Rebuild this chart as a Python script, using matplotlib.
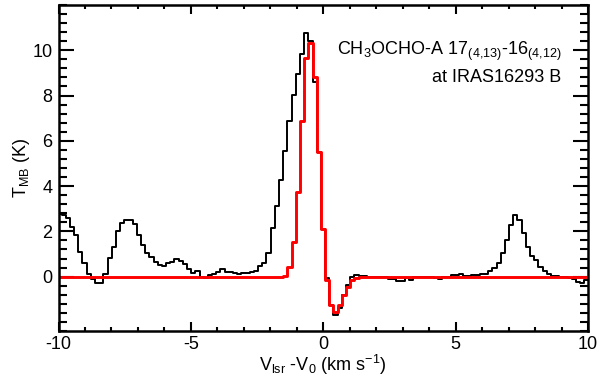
import numpy as np
import matplotlib.pyplot as plt
from matplotlib.ticker import MultipleLocator

plt.rcParams['font.family'] = 'Liberation Sans'
plt.rcParams['mathtext.fontset'] = 'custom'
plt.rcParams['mathtext.rm'] = 'Liberation Sans'
plt.rcParams['mathtext.it'] = 'Liberation Sans:italic'
plt.rcParams['mathtext.default'] = 'regular'
plt.rcParams['axes.unicode_minus'] = False

# spectral axis: centre of first channel and channel width (km/s)
v_first = -10.123
dv = 0.158

# observed spectrum, T_MB (K)
tmb_obs = [
    2.60, 2.75, 2.71, 2.57, 2.20, 1.83, 1.10, 0.59, 0.12, -0.11,
    -0.26, -0.26, 0.12, 0.81, 1.32, 2.00, 2.37, 2.52, 2.49, 2.31,
    1.83, 1.39, 1.06, 0.88, 0.66, 0.51, 0.47, 0.59, 0.66, 0.76,
    0.69, 0.54, 0.32, 0.15, 0.24, -0.03, -0.07, 0.06, 0.13, 0.21,
    0.34, 0.22, 0.19, 0.15, 0.10, 0.15, 0.15, 0.19, 0.27, 0.45,
    0.60, 1.05, 2.13, 3.11, 4.25, 5.57, 6.87, 8.03, 8.94, 9.85,
    10.75, 10.42, 8.60, 5.50, 2.10, -0.07, -1.25, -1.68, -1.40, -0.82,
    -0.38, 0.00, 0.07, 0.05, 0.03, 0.00, -0.03, -0.03, -0.03, -0.03,
    -0.12, -0.12, -0.19, -0.19, -0.05, -0.15, -0.02, -0.02, -0.02, -0.02,
    -0.02, -0.05, -0.10, 0.00, 0.00, 0.07, 0.07, 0.10, 0.04, 0.04,
    0.07, 0.07, 0.10, 0.13, 0.24, 0.37, 0.60, 1.03, 1.61, 2.27,
    2.71, 2.49, 1.91, 1.32, 0.91, 0.73, 0.44, 0.26, 0.12, 0.03,
    0.03, 0.00, -0.03, -0.08, -0.12, -0.22, -0.29, -0.15, -0.10,
]

# model spectrum, T_MB (K)
tmb_model = [
    0.00, 0.00, 0.00, 0.00, 0.00, 0.00, 0.00, 0.00, 0.00, 0.00,
    0.00, 0.00, 0.00, 0.00, 0.00, 0.00, 0.00, 0.00, 0.00, 0.00,
    0.00, 0.00, 0.00, 0.00, 0.00, 0.00, 0.00, 0.00, 0.00, 0.00,
    0.00, 0.00, 0.00, 0.00, 0.00, 0.00, 0.00, 0.00, 0.00, 0.00,
    0.00, 0.00, 0.00, 0.00, 0.00, 0.00, 0.00, 0.00, 0.00, 0.00,
    0.00, 0.00, 0.00, 0.00, 0.00, 0.03, 0.44, 1.52, 3.76, 6.87,
    9.65, 10.30, 8.80, 5.50, 2.10, -0.15, -1.25, -1.55, -1.25, -0.80,
    -0.44, -0.15, -0.05, -0.02, 0.00, 0.00, 0.00, 0.00, 0.00, 0.00,
    0.00, 0.00, 0.00, 0.00, 0.00, 0.00, 0.00, 0.00, 0.00, 0.00,
    0.00, 0.00, 0.00, 0.00, 0.00, 0.00, 0.00, 0.00, 0.00, 0.00,
    0.00, 0.00, 0.00, 0.00, 0.00, 0.00, 0.00, 0.00, 0.00, 0.00,
    0.00, 0.00, 0.00, 0.00, 0.00, 0.00, 0.00, 0.00, 0.00, 0.00,
    0.00, 0.00, 0.00, 0.00, 0.00, 0.00, 0.00, 0.00, 0.00,
]

vel = v_first + dv * np.arange(len(tmb_obs))

fig = plt.figure(figsize=(6, 3.76), dpi=100)
ax = fig.add_axes([0.0975, 0.1197, 0.8825, 0.867])

ax.step(vel, tmb_obs, where='mid', color='black', lw=1.4)
ax.step(vel, tmb_model, where='mid', color='red', lw=2.1)

ax.set_xlim(-10, 10)
ax.set_ylim(-2.4, 12)
ax.set_xticks([-10, -5, 0, 5, 10])
ax.set_yticks([0, 2, 4, 6, 8, 10])
ax.xaxis.set_minor_locator(MultipleLocator(1))
ax.yaxis.set_minor_locator(MultipleLocator(0.4))

ax.tick_params(which='both', direction='in', top=True, right=True,
               width=1.5, labelsize=13)
ax.tick_params(axis='x', which='major', length=6.5, pad=3.5)
ax.tick_params(axis='x', which='minor', length=3.2)
ax.tick_params(axis='y', which='major', length=10.8, pad=4.3)
ax.tick_params(axis='y', which='minor', length=5.5)
for s in ax.spines.values():
    s.set_linewidth(1.8)

ax.set_xlabel('V$_{lsr}$ -V$_0$ (km s$^{-1}$)', fontsize=13)
ax.xaxis.set_label_coords(0.5, -0.068)
ax.set_ylabel('T$_{MB}$ (K)', fontsize=13)
ax.yaxis.set_label_coords(-0.05, 0.5)

ax.text(0.950, 0.8466, 'CH$_3$OCHO-A 17$_{(4{,}13)}$-16$_{(4{,}12)}$',
        transform=ax.transAxes, ha='right', va='baseline', fontsize=13)
ax.text(0.950, 0.7647, 'at IRAS16293 B',
        transform=ax.transAxes, ha='right', va='baseline', fontsize=13)

fig.savefig('out.png', dpi=100)
